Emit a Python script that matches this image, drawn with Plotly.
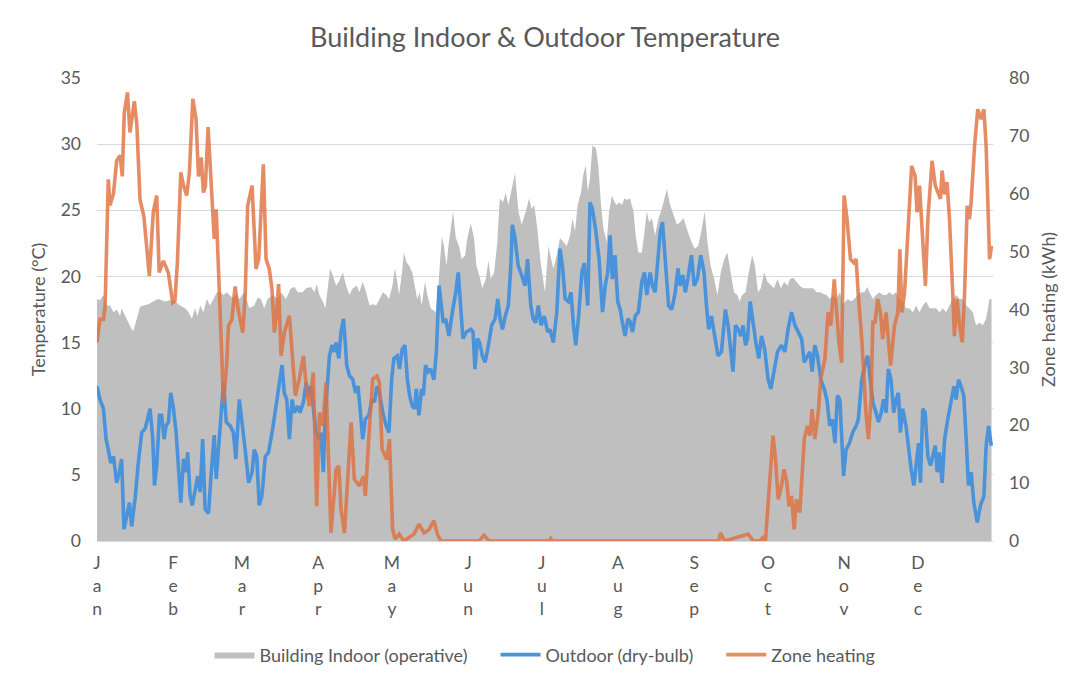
import plotly.graph_objects as go

# day-of-year values
month_start = [1, 32, 60, 91, 121, 152, 182, 213, 244, 274, 305, 335]
month_names = ["Jan", "Feb", "Mar", "Apr", "May", "Jun", "Jul", "Aug", "Sep", "Oct", "Nov", "Dec"]

in_day = [1, 2.2, 3.6, 4.9, 6.3, 7.7, 9, 10.4, 11, 12.4, 13.8, 15.1, 15.8, 17.2, 18.5, 19.9, 21.9, 23.9,
          26, 27.3, 28.7, 30.7, 32.8, 34.8, 36.9, 38.2, 39.6, 40.9, 41.9, 43, 44.3, 45.7, 47, 48.4, 49.8,
          51.1, 52.5, 53.8, 55.9, 57.9,
          58.9, 60.9, 63, 65, 66.4, 67.7, 69.1, 70.4, 72.5, 74.5, 75.9, 77.9, 79.9, 81.3, 82.7, 84.7, 86.1,
          88.1, 89.5, 90.4, 91.5, 92.9, 93.9, 94.9, 95.8, 96.9, 98.3, 99.4, 101, 102.4, 103.7, 105.1, 106.7,
          107.8, 109.1, 110.5, 111.9, 113.2, 114.6, 116, 117.3, 118.7,
          119.8, 121.2, 122.2, 123.2, 123.9, 125, 125.9, 126.9, 128, 129.3, 130.4, 131.3, 132.3, 133.1,
          134.5, 135.4, 136.8, 138.8, 139.9, 141.3, 142.2, 143.2, 144.2, 145.9, 147, 148.3, 149.4, 150.8,
          151.7, 153.1, 154.4, 155.4, 156.5, 157.8, 159.2, 160.3, 161.2, 162.6, 163.9, 164.9, 166.2, 167.3,
          168.4, 169.4, 171.1, 172.5, 173.8, 175.5, 176.8, 177.9, 178.9, 180.2,
          181.5, 183.3, 184.7, 185.8, 186.7, 188.1, 189.4, 190.8, 192.2, 193.5, 194.5, 195.5, 196.6, 198,
          198.9, 199.9, 200.7, 201.6, 202.6, 204, 205, 206.1, 207.1, 208.4, 209.4, 210.5, 211.6, 212.5,
          213.5, 214.6, 215.6, 216.6, 217.9, 219.3, 220.2, 221.3, 222.7, 223.8, 224.7, 225.7, 226.8, 228.1,
          229.5, 230.8, 231.9, 232.9, 234.2, 235.6, 237, 238.3, 239.7, 241,
          242.9, 244.2, 245.6, 246.9, 248.3, 249.4, 250.7, 252.1, 253.5, 254.8, 256.2, 257.5, 258.9, 260.2,
          261.6, 262.5, 263.5, 264.9, 266.2, 267.6, 268.7, 270, 271.1, 272.5, 273.8, 275.2, 276.5, 277.9,
          279.3, 280.6, 282, 283, 284.3, 285.6, 287, 288.4, 292.4, 293.8, 295.2, 296.5, 297.9, 299.2, 300.6,
          301.9, 303.3, 304.6,
          306.5, 307.9, 309.2, 310.6, 311.9, 313.3, 314.4, 315.3, 316.7, 318, 319.4, 320.8, 322.1, 323.4,
          324.8, 326.1, 327.5, 328.9, 330.2, 331.6, 333, 334.3, 335.7, 337.1, 338.4, 339.8, 341.1, 342.5,
          343.8, 345.2, 346.5, 347.9, 349.2, 350.6, 352, 353.3, 354.7, 356, 357.4, 358.7, 360.1, 361.5,
          362.8, 364.2, 365]
in_temp = [18.3, 18.2, 18.6, 17.8, 17.8, 17.3, 17.5, 17, 17.6, 17, 16.5, 16, 15.9, 16.8, 17.7, 17.8, 17.9, 18.1,
           18.3, 18.2, 18.1, 18.2, 18.1, 17.8, 17.6, 17.3, 16.8, 17.6, 17, 17.8, 17.3, 18.3, 17.8, 18.3, 18.8,
           18.8, 18.6, 18.8, 18.4, 18.6,
           18.3, 18.8, 17.6, 17.8, 18.4, 18.3, 17.6, 18.3, 18.6, 18.3, 18.8, 18.3, 19.1, 19.2, 18.8, 18.8, 19.1,
           19.2, 18.8, 19.4, 18.6, 18.1, 17.6, 19.1, 20.6, 20.1, 19.3, 19.6, 20.3, 19.3, 18.6, 19.1, 19.3,
           18.8, 19.6, 18.8, 17.8, 17.9, 17.8, 18.3, 18.8, 18.6,
           18.3, 19.3, 20.6, 19.6, 18.6, 20.1, 21.8, 21.1, 20.8, 20.3, 19.3, 18.3, 18.8, 17.8,
           19.6, 18.6, 17.6, 17.3, 19.3, 23, 22.3, 20.8, 22.6, 24.9, 22.9, 22.3, 21.3, 21.6,
           22.9, 24, 22.9, 20.8, 20.1, 19.1, 19.8, 21.2, 19.8, 20.3, 22.6, 25.9, 25.6, 26.3,
           25.4, 26.4, 27.8, 24.9, 23.9, 24.9, 25.9, 25.1, 25.4, 23.6,
           21.1, 18.8, 22.3, 21.3, 20.6, 21.6, 22.9, 22.6, 22.3, 23.1, 24.4, 23.4, 25.4, 26.4,
           27.7, 28.4, 26.4, 27.4, 29.9, 29.7, 28.4, 25.4, 23.6, 22.6, 24.9, 26.1, 25.6, 25.4,
           25.6, 25.4, 25.9, 25.8, 25.9, 24.9, 23.1, 21.8, 21.8, 23.4, 24.9, 24.1, 24.4, 23.1,
           24.4, 25.1, 25.9, 26.6, 25.4, 24.6, 23.9, 24.1, 24.4, 23.6,
           22.6, 22.1, 22.3, 23.4, 24.9, 22.6, 20.8, 19.8, 18.6, 20.3, 21.3, 21.8, 20.3, 18.8,
           18.6, 18.1, 18.6, 18.8, 20.3, 21.6, 20.8, 18.8, 19.1, 20.3, 19.6, 19.3, 19.1, 19.8,
           19.1, 19.6, 19.3, 19.8, 19.9, 19.6, 19.3, 19.1, 19.1, 18.8, 18.8, 18.7, 18.6, 18.3, 18.6,
           18.3, 18.8, 17.9,
           18.3, 18.1, 18.3, 18.6, 18.8, 18.8, 19.2, 18.8, 18.3, 18.6, 18.8, 18.6, 18.6, 18.8,
           18.6, 18.8, 18.3, 18.1, 17.6, 17.6, 17.3, 17.8, 17.3, 17.8, 18.1, 17.6, 17.6, 17.6,
           17.3, 17.6, 17.3, 17.8, 18.3, 18.6, 18.3, 18.3, 17.8, 17.6, 17.3, 16.3, 16.5, 16.3,
           16.8, 18.3, 18.3]

out_day = [1, 2.2, 3.6, 4.7, 5.6, 6.6, 7.7, 9, 10.1, 11, 12, 13.1, 14.2, 15.1, 16.5, 17.8, 19.2, 20.6, 21.5,
           22.6, 23.7, 24.4, 25.3, 26.4, 27.3, 28.3, 29.1, 30.1, 31, 32.1, 33.2, 34.1, 35.1, 36.2, 37.1, 37.9,
           38.9, 39.8, 40.9, 42, 43, 44, 45, 46.4, 47.3, 48.7, 49.5, 51.1, 52.5, 53.6, 55.2, 56.5, 57.5,
           58.9, 60.3, 61.3, 62.7, 64.1, 65, 66, 67, 68.1, 69.5, 70.8, 72.5, 74.1, 75.2, 76.3, 77.2, 78.2,
           79.3, 80.4, 81.3, 82.7, 83.6, 85, 86.1, 87.1, 88.1, 89, 90.1, 91.2, 92.1, 93.1, 93.9, 94.9, 95.6,
           96.6, 97.6, 98.3, 99.4, 100.3, 101.3, 102.1, 102.6, 103.7, 105.1, 106.2, 107.2, 108.2, 109.1,
           110.2, 111.6, 112.9, 113.9, 114.9, 115.9, 117.3, 118.7,
           119.8, 120.9, 121.8, 123.2, 124.1, 125.2, 126.3, 127.3, 128.2, 129.3, 130.4, 130.9, 132, 133.1,
           133.8, 134.7, 135.8, 136.8, 138.1, 139.1, 140.2, 141.3, 141.9, 142.9, 144.2, 145.6, 147, 148,
           149, 149.9, 151.3, 153.1, 154, 154.8, 155.8, 156.7, 157.8, 158.9, 160.3, 161.6, 163, 164.1, 165,
           166, 167.1, 168.4, 169.4, 170, 171.1, 172.4, 173.8, 175.2, 176.2, 177.5, 178.5, 179.5,
           180.6, 181.7, 183, 184.4, 185.3, 186.7, 188.1, 189.4, 190.4, 191.5, 192.8, 193.9, 194.9, 195.8,
           196.9, 198.3, 199.3, 200.7, 201.6, 202.6, 204, 205.3, 206.7, 207.8, 208.8, 209.8, 210.7, 211.8,
           212.9, 213.9, 214.8, 215.9, 217, 217.9, 218.9, 220, 221.3, 222.7, 223.8, 224.7, 226.1, 227, 228.1,
           229.2, 230.2, 231.1, 232.2, 233.6, 234.9, 236.3, 237.4, 238.3, 239.4, 240.4, 241.4,
           242.9, 244, 245.3, 246.7, 248, 249, 249.9, 251, 252.4, 253.7, 255.1, 256.7, 257.8, 258.9, 259.8,
           260.8, 261.9, 263, 263.9, 264.9, 265.7, 266.8, 268, 269.1, 270.3, 271.4, 272.7, 274.1, 275.2,
           276.5, 277.9, 279.5, 280.9, 282.2, 283.6, 285, 286.3, 287.7, 288.8, 289.8, 291.1, 292, 293.1,
           294.2, 295.5, 296.9, 298, 299.2, 300.2, 301.3, 302.3, 303.3,
           304.8, 305.8, 307.2, 308.5, 309.9, 310.8, 312.2, 313.5, 314.6, 315.7, 316.7, 318, 319, 320.1,
           321.1, 322.1, 323, 324.1, 325.2, 326.2, 327.1, 327.9, 328.9, 330.2, 331.3, 332.3, 333.4, 334.4,
           335.3, 336.1, 337, 338, 339.1, 340.2, 341.2, 342.1, 342.9, 343.8, 344.9, 345.9, 347.2, 348.6,
           349.7, 350.6, 351.6, 352.6, 353.7, 354.7, 355.6, 356.7, 357.8, 359.2, 360.5, 361.9, 362.8,
           363.8, 364.9]
out_temp = [11.7, 10.7, 10, 7.7, 6.9, 5.9, 6.4, 4.4, 5.2, 6.2, 0.9, 1.9, 2.9, 1.1, 3.2, 5.9, 8.2, 8.5, 9.2,
            10, 7.7, 4.2, 5.7, 9.5, 9.5, 7.7, 8.7, 9, 11.2, 10, 8.2, 5.2, 2.9, 6.2, 5.2, 6.7,
            3.4, 2.7, 3.9, 4.9, 3.7, 7.7, 2.4, 2.1, 4.7, 8, 4.7, 9, 12, 9, 8.7, 8.2, 6.2,
            10.7, 8.7, 6.9, 4.4, 5.2, 6.9, 6.4, 2.7, 3.4, 6.4, 6.7, 8.5, 10.5, 11.7, 13.3, 11.2, 10.7,
            7.7, 10.7, 9.7, 10.2, 9.7, 10.5, 12, 11, 11.7, 10.2, 8.2, 7.7, 8.2, 5.2, 9.7, 12.2, 14,
            14.8, 14.3, 15, 13.8, 15.8, 16.8, 14.8, 13.3, 12.5, 12.2, 11.2, 11.7, 9.7, 7.7,
            9.2, 9.5, 10.7, 10.5, 11.7, 11.2, 9.7, 8.7,
            8.2, 12.2, 13.8, 14, 13, 14.5, 14.8, 12.2, 11, 10.2, 10, 11.5, 9.5, 11.5,
            11, 13.3, 12.8, 13, 12.2, 14.3, 19.3, 17.8, 16.5, 16.8, 15.5, 17.3, 18.8, 20.3,
            17.8, 15.3, 15.8, 16, 15.8, 13, 15.3, 15, 14, 13.5, 14.8, 16.3, 16.8, 18.3, 16.8,
            16, 17, 17.8, 20.8, 23.9, 22.9, 20.8, 20.1, 19.3, 21.3, 17.8, 16.8, 16.5,
            17.8, 16.3, 17, 15.8, 16, 15, 17.3, 22.1, 20.8, 18.3, 18.1, 18.8, 16.3, 14.8,
            16.8, 20.3, 21, 17.8, 25.6, 25.1, 23.4, 21.3, 17.3, 19.3, 20.3, 23.1, 19.8, 21.6,
            18.1, 17.5, 16.5, 15.5, 16.8, 16.6, 15.8, 17, 17.3, 19.6, 20.3, 18.6, 20.3, 19.3, 18.8,
            21.6, 23.4, 24.1, 21.6, 17.8, 17.5, 18.8, 20.6, 19.3, 20.1, 18.8, 19.8,
            21.6, 19.3, 19.8, 21.6, 20.3, 17.8, 16, 17, 15.3, 14, 14.3, 17.5, 16.3, 14.3, 12.8,
            16.3, 16, 15.5, 16.3, 14.8, 15.3, 18.1, 16.3, 15, 13.8, 15.5, 14.5, 12.2, 11.5,
            13, 14.3, 14.8, 14.3, 16, 17.3, 16.3, 15.8, 15.3, 13.5, 13.8, 14.3, 12.8, 14.8,
            14, 12.2, 11.5, 10.7, 8.7, 9.2, 7.4, 11, 10.7,
            4.9, 6.9, 7.4, 8.2, 8.7, 9.2, 12.2, 13.3, 14, 12.2, 10.5, 9.7, 9, 9.7,
            10.7, 9.7, 13, 12.2, 9.7, 10.7, 11.2, 8.2, 10, 8.7, 6.9, 5.4, 4.2, 5.9,
            7.4, 4.4, 10, 9.7, 6.4, 5.7, 6.4, 7.2, 5.2, 6.7, 4.4, 7.7, 9.2, 10.7,
            11.7, 10.7, 12.2, 11.7, 11, 7.7, 4.2, 5.2, 2.9, 1.4, 2.7, 3.4, 7.2,
            8.7, 7.2]

heat_day = [1, 2.2, 3.6, 4.3, 5.6, 6.3, 7.7, 9, 10.4, 11.3, 12.1, 13.4, 14.4, 16.2, 17.2, 18.5, 20.1, 22.3,
            23.9, 25.3, 26.3, 28, 30, 31.8, 32.7, 33.7, 35.1, 36.2, 37.5, 38.6, 40, 41.3, 42.3, 43.4, 44.3,
            45.1, 46.2, 47, 48.1, 48.7, 49.5, 50.4, 51.8, 52.5, 53.8, 54.5, 55.9, 57.2, 58.2,
            59.4, 60.3, 61.3, 62.3, 64.1, 65.7, 66.8, 67.7, 68.7, 69.8, 71.1, 72.2, 73.2, 74.1, 74.9, 75.9,
            77.2, 79.3, 80.4, 81.7, 83.3, 85, 86.1, 87.4, 89, 90.4, 91.5, 92.9, 94.2, 95.3, 96.2, 98.3, 99.4,
            100.3, 101.7, 103, 104.4, 105.7, 107.8, 109.4, 110.2, 111.9, 113.2, 114.9, 115.9, 117, 118.9,
            120, 120.6, 121.3, 122.3, 123.9, 125.9, 127.9, 130, 132, 134.1, 136.1, 138.1, 139.5, 140.9,
            156.5, 158.5, 160.5, 185, 185.6, 186.2, 254, 254.7, 256.4, 261.9, 266, 268, 270.7, 272, 273,
            274.8, 276.1, 277.1, 278.2, 279.5, 280.6, 281.7, 282.6, 283.6, 284.7, 285.6, 287, 288.8, 290.1,
            291.1, 292, 293.1, 294.5, 295.5, 297.2, 298.5, 299.6, 301, 301.9, 302.9, 304,
            305, 306.2, 307.6, 308.9, 309.9, 310.8, 312.2, 313.9, 314.9, 316, 316.7, 317.6, 318.7, 319.8,
            320.7, 322.1, 323.9, 325.5, 326.9, 327.7, 328.5, 329.6, 330.9, 332.5, 333.9, 334.7, 335.7, 337,
            338.1, 339.1, 340.8, 342.1, 343.4, 344.2, 344.9, 345.9, 346.9, 347.9, 349.2, 349.9, 351, 352,
            353.1, 354, 355.1, 356, 356.7, 358.1, 359.4, 360.8, 361.9, 362.8, 364.2, 365]
heat_kwh = [34.3, 38.3, 38.3, 40.6, 62.5, 58, 60, 65.7, 66.6, 63, 74, 77.5, 70.6, 76, 72, 59, 56, 45.8,
            56.8, 59.7, 46.4, 48.4, 46.4, 41.2, 41.5, 48, 63.7, 61.4, 59.7, 63.7, 76.4, 72.9, 63, 66.3, 60.2,
            61.3, 71.5, 65.4, 57.3, 52.2, 57.3, 47.5, 30.8, 23.9, 30.8, 37.2, 38.3, 44, 40.6,
            37.5, 36, 42.4, 57.9, 61.4, 47, 48.7, 55.6, 65.1, 48.7, 47, 43.5, 36, 39.5, 44.4, 32,
            36, 38.9, 32.6, 25.1, 28, 32, 26.8, 23.3, 29.1, 6, 22.2, 19.9, 27.4, 11.8, 1.4, 12.4, 13,
            5.5, 1.4, 10.7, 20.5, 10.7, 9.5, 11.2, 7.8, 19.9, 28, 28.5, 27.4, 15.9, 14.1,
            17.6, 7.8, 2, 0.3, 1.2, 0, 0.6, 1.2, 2.9, 1.4, 2, 3.5, 1.2, 0,
            0, 1, 0, 0, 0.4, 0, 0, 1.4, 0, 0.6, 1.2, 0, 0, 0.6, 0,
            10.7, 18.2, 14.1, 7.2, 9.5, 12.4, 10.1, 6, 7.8, 2, 7.2, 4.9, 17.6, 19.9,
            18.2, 22.8, 17.6, 22.2, 28, 31.4, 39.5, 37.2, 45.2, 39.5, 34.3, 30.8,
            59.7, 55.6, 48.7, 48.1, 48.7, 42.4, 34.9, 22.2, 17.6, 24.5, 37.8, 37.8, 41.8, 39.5,
            34.9, 39.5, 30.3, 37.2, 39.5, 50.4, 39.5, 42.9, 53.3, 64.8, 63.1, 56.8, 61.4, 52.2,
            44.1, 55.6, 65.7, 61.4, 59.9, 59.1, 64, 59.9, 62, 55.6, 42.9, 35.4, 41.8, 37.2,
            34.3, 42.4, 57.9, 55.6, 58.5, 68.3, 74.6, 72.9, 74.6, 68.3, 48.7, 51]

text_color = "#595959"
font_family = "Lato, 'Open Sans', sans-serif"
pad = "\u00a0" * 5  # extra room between legend entries

fig = go.Figure()

fig.add_trace(go.Scatter(
    x=in_day, y=in_temp, name="Building Indoor (operative)" + pad,
    mode="lines", line=dict(width=0, color="#bfbfbf"),
    fill="tozeroy", fillcolor="#bfbfbf",
))
fig.add_trace(go.Scatter(
    x=out_day, y=out_temp, name="Outdoor (dry-bulb)" + pad,
    mode="lines", line=dict(width=3.6, color="#4a93db"),
))
fig.add_trace(go.Scatter(
    x=heat_day, y=heat_kwh, name="Zone heating", yaxis="y2",
    mode="lines", line=dict(width=3.6, color="#e0703f"), opacity=0.8,
))

ticktext = ["<br>".join(list(m)) for m in month_names]

# the page body adds an 8px offset, margins are shifted to compensate
fig.update_layout(
    width=1091, height=686,
    margin=dict(l=89, r=106, t=70, b=153),
    paper_bgcolor="white", plot_bgcolor="white",
    font=dict(family=font_family, size=17, color=text_color),
    title=dict(text="Building Indoor & Outdoor Temperature", x=0.5, xanchor="center", xref="paper",
               y=1 - 30 / 686, yanchor="middle",
               font=dict(size=27, color=text_color, family=font_family)),
    xaxis=dict(range=[1, 365.6], tickmode="array", tickvals=month_start, ticktext=ticktext,
               showgrid=False, showline=True, linecolor="#d9d9d9", linewidth=1,
               ticks="", zeroline=False, ticklabelstandoff=6,
               tickfont=dict(size=17.5, color=text_color)),
    yaxis=dict(range=[0, 35], dtick=5, showgrid=True, gridcolor="#d9d9d9", zeroline=False,
               ticks="", showline=False, ticklabelstandoff=15,
               tickfont=dict(size=17.5, color=text_color),
               title=dict(text="Temperature (°C)", standoff=10,
                          font=dict(size=18, color=text_color))),
    yaxis2=dict(range=[0, 80], dtick=10, overlaying="y", side="right", showgrid=False,
                zeroline=False, ticks="", showline=False, ticklabelstandoff=15,
                tickfont=dict(size=17.5, color=text_color),
                title=dict(text="Zone heating (kWh)", standoff=14,
                           font=dict(size=18, color=text_color))),
    legend=dict(orientation="h", x=0.5, xanchor="center", y=-0.246, yanchor="middle",
                font=dict(size=18, color=text_color), itemwidth=40, tracegroupgap=0),
    showlegend=True,
)

fig.write_html("out.html")
